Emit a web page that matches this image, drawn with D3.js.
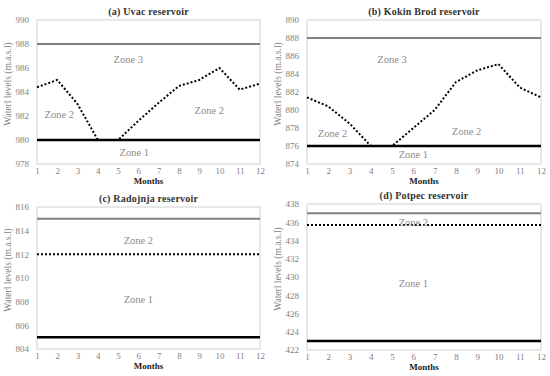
<!DOCTYPE html>
<html>
<head>
<meta charset="utf-8">
<script src="https://cdn.jsdelivr.net/npm/d3@7"></script>
<style>
  body { margin: 0; background: #fff; }
  svg text { font-family: "Liberation Serif", "Times New Roman", serif; }
</style>
</head>
<body>
<svg id="chart" width="550" height="376"></svg>
<script>
// data
const months = [1, 2, 3, 4, 5, 6, 7, 8, 9, 10, 11, 12];

const uvacLevels  = [984.4, 985, 983, 980, 980, 981.6, 983.1, 984.5, 985, 986, 984.2, 984.7];
const kokinLevels = [881.4, 880.4, 878.5, 876, 876, 878, 880, 883.1, 884.4, 885.1, 882.5, 881.4];
const radojnjaLevels = [812, 812, 812, 812, 812, 812, 812, 812, 812, 812, 812, 812];
const potpecLevels   = [435.7, 435.7, 435.7, 435.7, 435.7, 435.7, 435.7, 435.7, 435.7, 435.7, 435.7, 435.7];

const titles   = ["(a) Uvac reservoir", "(b) Kokin Brod reservoir", "(c) Radojnja reservoir", "(d) Potpec reservoir"];
const yDomains = [[978, 990], [874, 890], [804, 816], [422, 438]];
const upperLimits = [988, 888, 815, 437];   // grey line
const lowerLimits = [980, 876, 805, 423];   // black line

// zone labels: [month, level, text]
const zoneLabels = [
  [[5.5, 986.6, "Zone 3"], [2.1, 982, "Zone 2"], [9.5, 982.4, "Zone 2"], [5.8, 978.9, "Zone 1"]],
  [[5.0, 885.5, "Zone 3"], [2.2, 877.3, "Zone 2"], [8.5, 877.5, "Zone 2"], [6.0, 874.9, "Zone 1"]],
  [[6.0, 813.1, "Zone 2"], [6.0, 808.1, "Zone 1"]],
  [[6.0, 435.9, "Zone 2"], [6.0, 429.2, "Zone 1"]]
];

const seriesList = [uvacLevels, kokinLevels, radojnjaLevels, potpecLevels];

// panel boxes (plot area in pixels)
const panels = [
  { left: 37,  right: 260, top: 20,  bottom: 164 },
  { left: 307, right: 541, top: 20,  bottom: 164 },
  { left: 37,  right: 260, top: 207, bottom: 349 },
  { left: 307, right: 541, top: 204, bottom: 350 }
];

const svg = d3.select("#chart");

panels.forEach((p, i) => {
  const g = svg.append("g");

  const x = d3.scaleLinear().domain([1, 12]).range([p.left, p.right]);
  const y = d3.scaleLinear().domain(yDomains[i]).range([p.bottom, p.top]);

  // frame
  g.append("rect")
    .attr("x", p.left).attr("y", p.top)
    .attr("width", p.right - p.left).attr("height", p.bottom - p.top)
    .attr("fill", "none").attr("stroke", "#d0d0d0").attr("stroke-width", 1);

  // axes
  const xAxis = d3.axisBottom(x).tickValues(months).tickSize(0).tickPadding(4);
  const yAxis = d3.axisLeft(y).ticks(7).tickSize(0).tickPadding(8);

  const gx = g.append("g").attr("transform", `translate(0,${p.bottom})`).call(xAxis);
  const gy = g.append("g").attr("transform", `translate(${p.left},0)`).call(yAxis);
  [gx, gy].forEach(a => {
    a.attr("font-family", null).attr("font-size", null);
    a.select(".domain").remove();
    a.selectAll("text").attr("fill", "#7f7f7f").style("font-size", "9px");
  });

  // limit lines
  g.append("line")
    .attr("x1", p.left).attr("x2", p.right)
    .attr("y1", y(upperLimits[i])).attr("y2", y(upperLimits[i]))
    .attr("stroke", "#808080").attr("stroke-width", 2);
  g.append("line")
    .attr("x1", p.left).attr("x2", p.right)
    .attr("y1", y(lowerLimits[i])).attr("y2", y(lowerLimits[i]))
    .attr("stroke", "#000").attr("stroke-width", 2.5);

  // water level series
  const line = d3.line().x((d, k) => x(months[k])).y(d => y(d));
  g.append("path")
    .datum(seriesList[i])
    .attr("d", line)
    .attr("fill", "none")
    .attr("stroke", "#000")
    .attr("stroke-width", 2)
    .attr("stroke-dasharray", "2,2");

  // zone labels
  g.selectAll(".zone")
    .data(zoneLabels[i])
    .enter().append("text")
    .attr("x", d => x(d[0]))
    .attr("y", d => y(d[1]))
    .attr("text-anchor", "middle")
    .attr("dominant-baseline", "middle")
    .attr("fill", "#8c8c8c")
    .style("font-size", "10.5px")
    .text(d => d[2]);

  // title
  g.append("text")
    .attr("x", (p.left + p.right) / 2)
    .attr("y", p.top - 5)
    .attr("text-anchor", "middle")
    .style("font-size", "10px")
    .style("font-weight", "bold")
    .style("letter-spacing", "0.2px")
    .attr("fill", "#333")
    .text(titles[i]);

  // months label
  g.append("text")
    .attr("x", x(6.5))
    .attr("y", p.bottom + 20)
    .attr("text-anchor", "middle")
    .style("font-size", "9px")
    .style("font-weight", "bold")
    .attr("fill", "#222")
    .text("Months");

  // y label
  g.append("text")
    .attr("transform", `translate(${p.left - 28},${(p.top + p.bottom) / 2 - 8}) rotate(-90)`)
    .attr("text-anchor", "middle")
    .attr("dominant-baseline", "middle")
    .style("font-size", "9.5px")
    .attr("fill", "#7f7f7f")
    .text("Waterl levels (m.a.s.l)");
});
</script>
</body>
</html>
